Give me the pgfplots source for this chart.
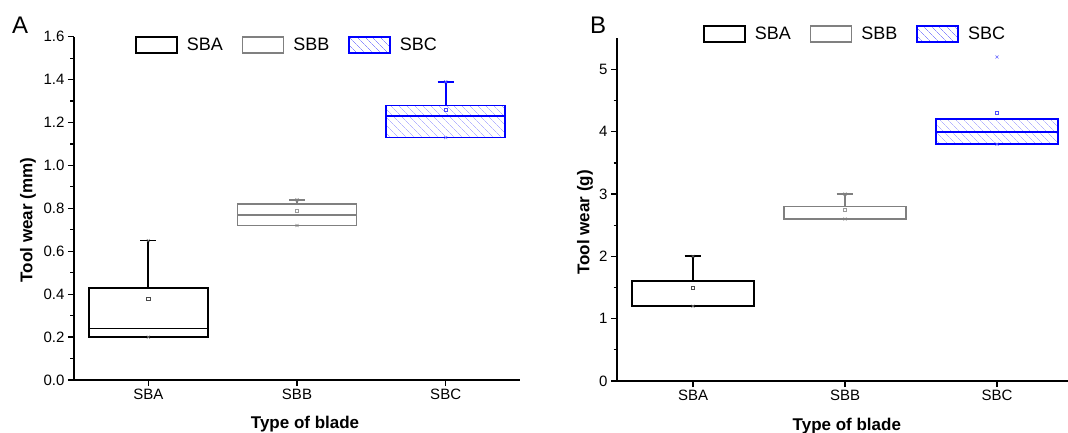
\documentclass[border=0pt]{standalone}
\usepackage{fontspec}
\setmainfont{Liberation Sans}
\usepackage{pgfplots}
\pgfplotsset{compat=1.18}
\usepgfplotslibrary{statistics}
\usetikzlibrary{patterns.meta}
\definecolor{sbbgray}{RGB}{128,128,128}
\definecolor{hatchblue}{RGB}{140,140,255}
\pgfplotsset{
  panel/.style={
    scale only axis,
    axis x line=bottom, axis y line=left,
    axis line style={-, line width=1.4bp, black},
    tick align=outside,
    major tick length=6bp, minor tick length=3.5bp,
    every tick/.style={line width=1.2bp, black},
    xmin=0.5, xmax=3.5,
    xtick={1,2,3}, xticklabels={SBA,SBB,SBC},
    minor y tick num=1,
    /pgf/number format/assume math mode=true,
    tick label style={font=\fontsize{15bp}{18bp}\selectfont},
    label style={font=\fontsize{17bp}{20bp}\selectfont\bfseries},
    legend columns=3,
    legend style={draw=none, fill=none, inner xsep=0pt, anchor=west,
      font=\fontsize{18bp}{21bp}\selectfont,
      /tikz/every even column/.append style={column sep=17bp}},
    clip=false,
  },
  thickparts/.style={boxplot/every median/.style={line width=1.8bp},
    boxplot/every whisker/.style={line width=1.8bp}},
  boxA/.style={black, line width=1.7bp, thickparts,
    legend image code/.code={\draw[black, line width=1.4bp] (0bp,-8bp) rectangle (41bp,8bp); \path (48bp,0bp);}},
  boxB/.style={sbbgray, line width=1.7bp, thickparts,
    legend image code/.code={\draw[sbbgray, line width=1.4bp] (0bp,-8bp) rectangle (41bp,8bp); \path (48bp,0bp);}},
  boxC/.style={blue, line width=1.7bp, thickparts,
    boxplot/every box/.style={draw=blue, pattern={Lines[angle=-45,distance=6bp,line width=0.6bp]}, pattern color=hatchblue},
    legend image code/.code={\draw[blue, line width=1.4bp, pattern={Lines[angle=-45,distance=6bp,line width=0.6bp]}, pattern color=hatchblue] (0bp,-8bp) rectangle (41bp,8bp); \path (48bp,0bp);}},
  meanmark/.style={only marks, mark=square, mark size=1.6bp, line width=0.6bp, forget plot},
  mmmark/.style={only marks, mark=x, mark size=2.2bp, line width=0.5bp, forget plot},
}
\begin{document}
\begin{tikzpicture}
\useasboundingbox (0bp,0bp) rectangle (1068bp,433bp);
% ---------------- Panel A ----------------
\begin{axis}[panel,
  at={(74bp,53bp)}, anchor=south west,
  width=446bp, height=343.3bp,
  ymin=0, ymax=1.6, ytick={0,0.2,...,1.6},
  yticklabel style={/pgf/number format/.cd, fixed, fixed zerofill, precision=1},
  xlabel={Type of blade}, ylabel={Tool wear (mm)},
  xlabel style={at={(axis description cs:0.518,-0.14)}, anchor=base},
  ylabel style={at={(axis description cs:-0.103,0.466)}, anchor=center},
  legend style={at={(axis description cs:0.137,0.976)}},
]
\addplot[boxA, boxplot prepared={draw direction=y, draw position=1, lower whisker=0.2, lower quartile=0.2, median=0.24, upper quartile=0.43, upper whisker=0.65, box extend=0.8, whisker extend=0.107}] coordinates {};
\addlegendentry{SBA}
\addplot[boxB, boxplot prepared={draw direction=y, draw position=2, lower whisker=0.72, lower quartile=0.72, median=0.77, upper quartile=0.82, upper whisker=0.84, box extend=0.8, whisker extend=0.107}] coordinates {};
\addlegendentry{SBB}
\addplot[boxC, boxplot prepared={draw direction=y, draw position=3, lower whisker=1.13, lower quartile=1.13, median=1.23, upper quartile=1.28, upper whisker=1.39, box extend=0.8, whisker extend=0.107}] coordinates {};
\addlegendentry{SBC}
\addplot[meanmark, black!70] coordinates {(1,0.38)};
\addplot[meanmark, sbbgray!80] coordinates {(2,0.79)};
\addplot[meanmark, blue!70] coordinates {(3,1.26)};
\addplot[mmmark, gray] coordinates {(1,0.2) (1,0.65) (2,0.72) (2,0.84)};
\addplot[mmmark, blue!60] coordinates {(3,1.13) (3,1.39)};
\end{axis}
\node[anchor=base west, inner sep=0pt, font=\fontsize{24bp}{26bp}\selectfont] at (12bp,399.7bp) {A};
% ---------------- Panel B ----------------
\begin{axis}[panel,
  at={(617bp,52bp)}, anchor=south west,
  width=456bp, height=342.7bp,
  ymin=0, ymax=5.5, ytick={0,1,...,5},
  xlabel={Type of blade}, ylabel={Tool wear (g)},
  xlabel style={at={(axis description cs:0.504,-0.143)}, anchor=base},
  ylabel style={at={(axis description cs:-0.070,0.4625)}, anchor=center},
  legend style={at={(axis description cs:0.189,1.0125)}},
]
\addplot[boxA, boxplot prepared={draw direction=y, draw position=1, lower whisker=1.2, lower quartile=1.2, median=1.2, upper quartile=1.6, upper whisker=2.0, box extend=0.8, whisker extend=0.11}] coordinates {};
\addlegendentry{SBA}
\addplot[boxB, boxplot prepared={draw direction=y, draw position=2, lower whisker=2.6, lower quartile=2.6, median=2.6, upper quartile=2.8, upper whisker=3.0, box extend=0.8, whisker extend=0.11}] coordinates {};
\addlegendentry{SBB}
\addplot[boxC, boxplot prepared={draw direction=y, draw position=3, lower whisker=3.8, lower quartile=3.8, median=4.0, upper quartile=4.2, upper whisker=4.2, box extend=0.8, whisker extend=0.11}] coordinates {};
\addlegendentry{SBC}
\addplot[meanmark, black!70] coordinates {(1,1.5)};
\addplot[meanmark, sbbgray!80] coordinates {(2,2.75)};
\addplot[meanmark, blue!70] coordinates {(3,4.3)};
\addplot[mmmark, gray] coordinates {(1,1.2) (1,2.0) (2,2.6) (2,3.0)};
\addplot[mmmark, blue!60] coordinates {(3,3.8) (3,5.2)};
\end{axis}
\node[anchor=base west, inner sep=0pt, font=\fontsize{24bp}{26bp}\selectfont] at (590bp,399.7bp) {B};
\end{tikzpicture}
\end{document}
